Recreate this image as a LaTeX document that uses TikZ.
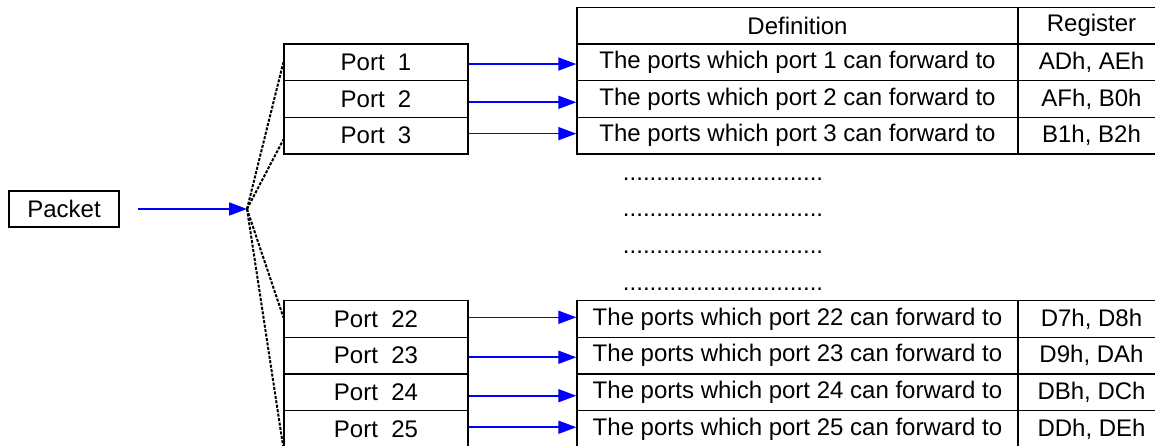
\documentclass[tikz,border=0pt]{standalone}
\usepackage{fontspec}
\setmainfont{Liberation Sans}
\usetikzlibrary{arrows.meta}
\begin{document}
\begin{tikzpicture}[x=1pt,y=-1pt,
  cell/.style={draw=black,line width=1.3pt,inner sep=0pt,minimum height=36.7pt,
    font=\fontsize{24pt}{28pt}\selectfont},
  portcell/.style={cell,minimum width=184pt},
  defcell/.style={cell,minimum width=441pt},
  regcell/.style={cell,minimum width=147pt},
  arr/.style={draw=blue,line width=1.6pt,-{Triangle[length=18pt,width=13pt]}},
  fanline/.style={draw=black,line width=2pt,dash pattern=on 3pt off 1.5pt},
  dotsrow/.style={inner sep=0pt,font=\fontsize{24pt}{28pt}\selectfont}]
\useasboundingbox (0,0) rectangle (1155,446);
% packet
\node[cell,minimum width=110pt,minimum height=36pt] (pk) at (64,209) {Packet};
\coordinate (fan) at (247,209);
% header
\node[defcell] (dh) at (797.5,25.65) {Definition};
\node[regcell] (rh) at (1091.5,25.65) {Register};
% top rows
\node[portcell] (p1) at (376,62.35) {Port\ \ 1};
\node[portcell] (p2) at (376,99) {Port\ \ 2};
\node[portcell] (p3) at (376,135.65) {Port\ \ 3};
\node[defcell] (d1) at (797.5,62.35) {The ports which port 1 can forward to};
\node[defcell] (d2) at (797.5,99) {The ports which port 2 can forward to};
\node[defcell] (d3) at (797.5,135.65) {The ports which port 3 can forward to};
\node[regcell] (r1) at (1091.5,62.35) {ADh, AEh};
\node[regcell] (r2) at (1091.5,99) {AFh, B0h};
\node[regcell] (r3) at (1091.5,135.65) {B1h, B2h};
% dots
\node[dotsrow] (dt1) at (723,179) {..............................};
\node[dotsrow] (dt2) at (723,215) {..............................};
\node[dotsrow] (dt3) at (723,252) {..............................};
\node[dotsrow] (dt4) at (723,289) {..............................};
% bottom rows
\node[portcell] (p22) at (376,319) {Port\ \ 22};
\node[portcell] (p23) at (376,355.65) {Port\ \ 23};
\node[portcell] (p24) at (376,392.3) {Port\ \ 24};
\node[portcell] (p25) at (376,428.95) {Port\ \ 25};
\node[defcell] (d22) at (797.5,319) {The ports which port 22 can forward to};
\node[defcell] (d23) at (797.5,355.65) {The ports which port 23 can forward to};
\node[defcell] (d24) at (797.5,392.3) {The ports which port 24 can forward to};
\node[defcell] (d25) at (797.5,428.95) {The ports which port 25 can forward to};
\node[regcell] (r22) at (1091.5,319) {D7h, D8h};
\node[regcell] (r23) at (1091.5,355.65) {D9h, DAh};
\node[regcell] (r24) at (1091.5,392.3) {DBh, DCh};
\node[regcell] (r25) at (1091.5,428.95) {DDh, DEh};
% arrows
\draw[arr] ([xshift=18pt]pk.east) -- (fan);
\draw[arr] ([yshift=-1.7pt]p1.east) -- ([yshift=-1.7pt]d1.west);
\draw[arr] ([yshift=-3.3pt]p2.east) -- ([yshift=-3.3pt]d2.west);
\draw[arr] ([yshift=2pt]p3.east) -- ([yshift=2pt]d3.west);
\draw[arr] ([yshift=1.7pt]p22.east) -- ([yshift=1.7pt]d22.west);
\draw[arr] ([yshift=-1.6pt]p23.east) -- ([yshift=-1.6pt]d23.west);
\draw[arr] ([yshift=-3.4pt]p24.east) -- ([yshift=-3.4pt]d24.west);
\draw[arr] ([yshift=1.7pt]p25.east) -- ([yshift=1.7pt]d25.west);
% fan lines
\draw[fanline] (fan) -- (p1.west);
\draw[fanline] (fan) -- ([yshift=-4pt]p3.west);
\draw[fanline] (fan) -- ([yshift=1.7pt]p22.west);
\draw[fanline] (fan) -- (p25.south west);
\end{tikzpicture}
\end{document}
